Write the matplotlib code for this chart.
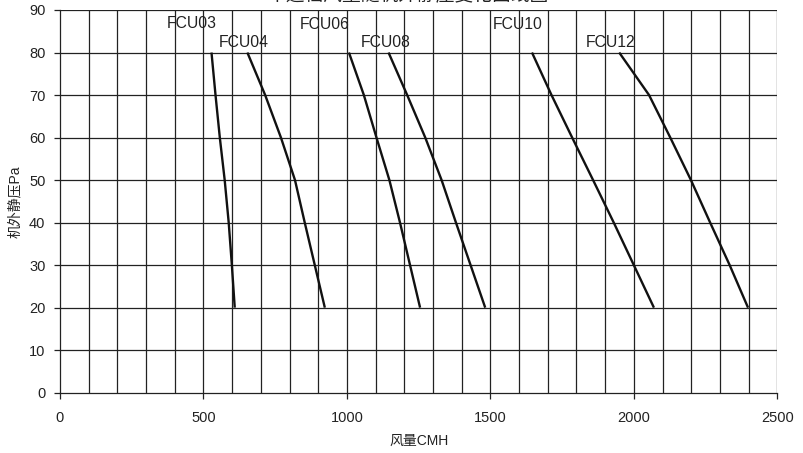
import matplotlib
matplotlib.use("Agg")
import matplotlib.pyplot as plt
import numpy as np

plt.rcParams['font.family'] = ['Liberation Sans', 'Noto Sans CJK SC', 'DejaVu Sans']

# static pressure points (Pa)
pressure = [80, 70, 60, 50, 40, 30, 20]
# airflow (CMH) per unit at each pressure
fcu03 = [528, 542, 557, 574, 588, 599, 609]
fcu04 = [653, 715, 770, 819, 853, 888, 923]
fcu06 = [1007, 1059, 1103, 1148, 1185, 1220, 1255]
fcu08 = [1145, 1210, 1273, 1330, 1380, 1431, 1482]
fcu10 = [1645, 1713, 1785, 1858, 1930, 2000, 2070]
fcu12 = [1949, 2053, 2127, 2199, 2266, 2334, 2398]
series = [fcu03, fcu04, fcu06, fcu08, fcu10, fcu12]
names = ["FCU03", "FCU04", "FCU06", "FCU08", "FCU10", "FCU12"]
label_x = [372, 555, 834, 1048, 1507, 1833]
label_y = [86.9, 82.3, 86.7, 82.3, 86.5, 82.3]

title = "中速档风量随机外静压变化曲线图"
xlabel = "风量CMH"
ylabel = "机外静压Pa"
xticks = [0, 500, 1000, 1500, 2000, 2500]
yticks = list(range(0, 91, 10))

W, H = 804, 453
fig = plt.figure(figsize=(W / 100, H / 100), dpi=100)
ax = fig.add_axes([60 / W, 1 - 392.7 / H, (777.3 - 60) / W, (392.7 - 10) / H])

ax.set_xlim(0, 2500)
ax.set_ylim(0, 90)

# grid
for gx in range(100, 2501, 100):
    ax.axvline(gx, color='#222222', lw=0.9, zorder=1)
for gy in range(10, 91, 10):
    ax.axhline(gy, color='#222222', lw=0.9, zorder=1)

for s, n, lx, ly in zip(series, names, label_x, label_y):
    ax.plot(s, pressure, color='#111111', lw=1.7, zorder=3, solid_capstyle='butt')
    ax.text(lx, ly, n, fontsize=11.3, color='#222222', va='center', ha='left', zorder=4)

for side in ['top', 'right']:
    ax.spines[side].set_visible(False)
ax.spines['left'].set_color('#222222')
ax.spines['bottom'].set_color('#222222')
ax.spines['left'].set_linewidth(0.9)
ax.spines['bottom'].set_linewidth(0.9)

ax.set_xticks(xticks)
ax.set_yticks(yticks)
ax.tick_params(axis='both', direction='out', length=4.5, width=0.9, color='#222222',
               labelsize=10.5, labelcolor='#222222')
ax.tick_params(axis='x', pad=9)
ax.tick_params(axis='y', pad=6)

ax.set_xlabel(xlabel, fontsize=10, color='#222222', labelpad=6)
ax.set_ylabel(ylabel, fontsize=10, color='#222222', labelpad=5)

fig.text(408 / W, 1 - 5 / H, title, fontsize=13.5, ha='center', va='bottom', color='#222222')

fig.savefig("out.png", dpi=100)
